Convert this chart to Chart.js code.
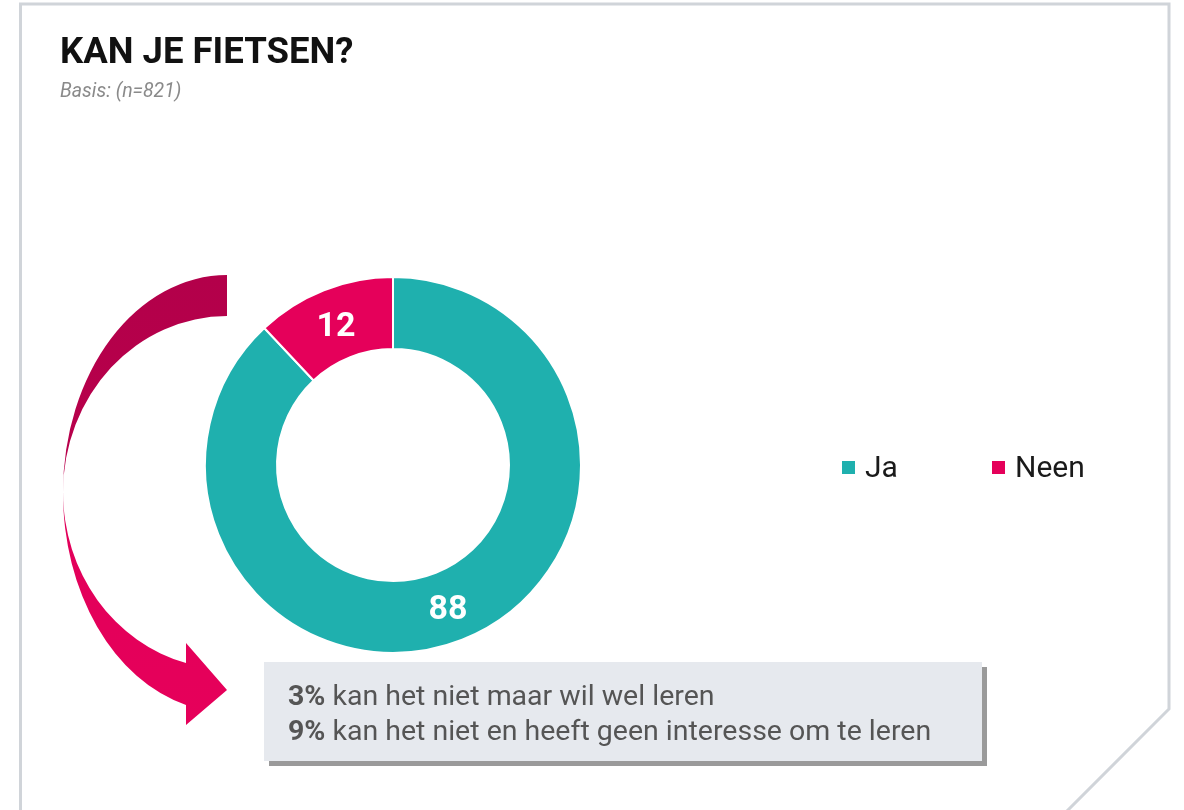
<!DOCTYPE html>
<html>
<head>
<meta charset="utf-8">
<script src="https://cdn.jsdelivr.net/npm/chart.js@4.4.1/dist/chart.umd.min.js"></script>
<style>
  html,body{margin:0;padding:0;background:#fff;}
  body{width:1184px;height:810px;position:relative;overflow:hidden;font-family:Roboto,"Noto Sans",sans-serif;}
  #frame,#arrow{position:absolute;left:0;top:0;}
  #chartWrap{position:absolute;left:0;top:0;width:1184px;height:810px;}
  #title{position:absolute;left:60px;top:31px;font-weight:700;font-size:36.5px;color:#111;letter-spacing:0px;line-height:40px;}
  #subtitle{position:absolute;left:60px;top:79px;font-style:italic;font-size:19.5px;color:#8a8a8a;line-height:24px;}
  #note{position:absolute;left:264px;top:662px;width:718px;height:99px;background:#e6e9ee;box-shadow:5px 5px 0 #9a9a9a;box-sizing:border-box;padding:16px 0 0 24px;color:#555;font-size:28.5px;line-height:35px;}
  #note b{font-weight:700;}
</style>
</head>
<body>
<svg id="frame" width="1184" height="810">
  <polyline points="20.5,820 20.5,4 1169,4 1169,709 1060,818" fill="none" stroke="#d0d4d9" stroke-width="3"/>
</svg>
<svg id="arrow" width="1184" height="810">
  <defs>
    <linearGradient id="ag" x1="0" y1="275" x2="0" y2="725" gradientUnits="userSpaceOnUse">
      <stop offset="0" stop-color="#b3004a"/>
      <stop offset="0.42" stop-color="#b8004b"/>
      <stop offset="0.56" stop-color="#e2005a"/>
      <stop offset="1" stop-color="#e6005a"/>
    </linearGradient>
  </defs>
  <path d="M227,275 A164,217 0 0 0 63,492 A164,219 0 0 0 186,705 L186,725 L227,690 L186,643 L186,663 A164,177 0 0 1 63,492 A164,176 0 0 1 227,316 Z" fill="url(#ag)"/>
</svg>
<div id="chartWrap"><canvas id="c" width="1184" height="810"></canvas></div>
<div id="title">KAN JE FIETSEN?</div>
<div id="subtitle">Basis: (n=821)</div>
<div id="note"><div><b>3%</b> kan het niet maar wil wel leren</div><div><b>9%</b> kan het niet en heeft geen interesse om te leren</div></div>
<script>
const categories = ["Ja", "Neen"];
const values = [88, 12];
const colors = ["#1fb0ae", "#e5005a"];

const valueLabels = {
  id: "valueLabels",
  afterDatasetsDraw(chart) {
    const ctx = chart.ctx;
    const meta = chart.getDatasetMeta(0);
    ctx.save();
    ctx.fillStyle = "#ffffff";
    ctx.font = "700 34px Roboto";
    ctx.textAlign = "center";
    ctx.textBaseline = "middle";
    meta.data.forEach((arc, i) => {
      const p = arc.tooltipPosition();
      ctx.fillText(String(chart.data.datasets[0].data[i]), p.x - 1, p.y + 4);
    });
    ctx.restore();
  }
};

const sideLegend = {
  id: "sideLegend",
  afterDraw(chart) {
    const ctx = chart.ctx;
    const ds = chart.data.datasets[0];
    const xs = [842, 992];
    const cy = 467.5;
    ctx.save();
    ctx.font = "400 30px Roboto";
    ctx.textBaseline = "middle";
    chart.data.labels.forEach((lab, i) => {
      ctx.fillStyle = ds.backgroundColor[i];
      ctx.fillRect(xs[i], cy - 6.5, 13, 13);
      ctx.fillStyle = "#1a1a1a";
      ctx.fillText(lab, xs[i] + 23, cy + 2);
    });
    ctx.restore();
  }
};

new Chart(document.getElementById("c"), {
  type: "doughnut",
  data: {
    labels: categories,
    datasets: [{
      data: values,
      backgroundColor: colors,
      borderColor: "#ffffff",
      borderWidth: 2,
      hoverOffset: 0
    }]
  },
  options: {
    responsive: false,
    animation: false,
    cutout: "61.7%",
    layout: { padding: { left: 204, top: 276, right: 602, bottom: 156 } },
    plugins: { legend: { display: false }, tooltip: { enabled: false } }
  },
  plugins: [valueLabels, sideLegend]
});
</script>
</body>
</html>
